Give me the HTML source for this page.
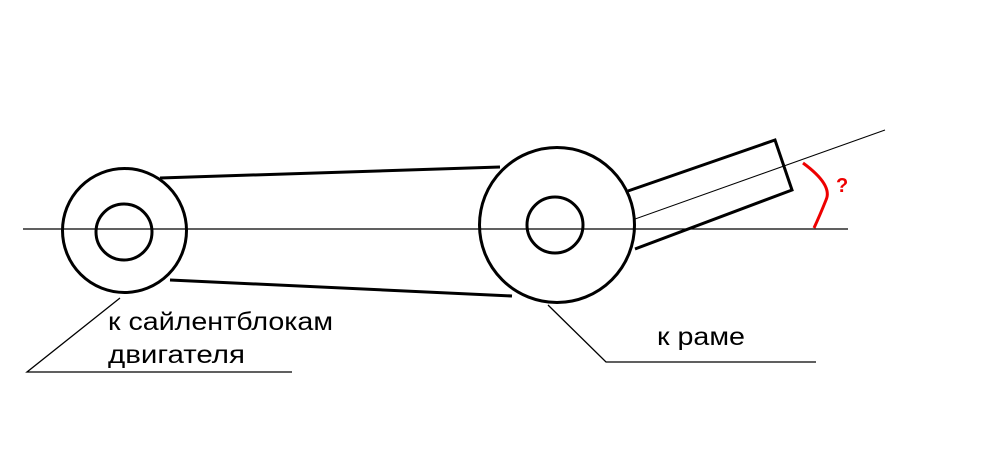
<!DOCTYPE html>
<html><head><meta charset="utf-8"><style>
html,body{margin:0;padding:0;background:#fff;}
svg{display:block;}
text{font-family:"Liberation Sans",sans-serif;}
</style></head><body>
<svg width="984" height="462" viewBox="0 0 984 462" xmlns="http://www.w3.org/2000/svg">
<g fill="none" stroke="#000">
<line x1="160" y1="178" x2="500" y2="167" stroke-width="3"/>
<line x1="170" y1="280" x2="512" y2="296" stroke-width="3"/>
<circle cx="124.5" cy="230.5" r="62" stroke-width="3" fill="#fff"/>
<circle cx="124" cy="232" r="28" stroke-width="3"/>
<circle cx="557" cy="225" r="77.5" stroke-width="3" fill="#fff"/>
<circle cx="555" cy="225" r="28" stroke-width="3"/>
<polyline points="628,191 775,140 792,190 635,249" stroke-width="3"/>
<line x1="23" y1="229" x2="848" y2="229" stroke-width="1.3"/>
<line x1="635" y1="219" x2="885" y2="130" stroke-width="1"/>
<polyline points="120,298 27,372 292,372" stroke-width="1.3"/>
<polyline points="548,305 606,362 816,362" stroke-width="1.3"/>
<path d="M803,163 Q833,185 826,200 Q820,215 814,228" stroke="#e00" stroke-width="3"/>
</g>
<text x="836" y="192" font-size="20" font-weight="bold" fill="#e00">?</text>
<text x="108" y="330" font-size="25" textLength="225" lengthAdjust="spacingAndGlyphs" fill="#000">к сайлентблокам</text>
<text x="108" y="363" font-size="25" textLength="137" lengthAdjust="spacingAndGlyphs" fill="#000">двигателя</text>
<text x="657" y="345" font-size="25" textLength="88" lengthAdjust="spacingAndGlyphs" fill="#000">к раме</text>
</svg>
</body></html>
